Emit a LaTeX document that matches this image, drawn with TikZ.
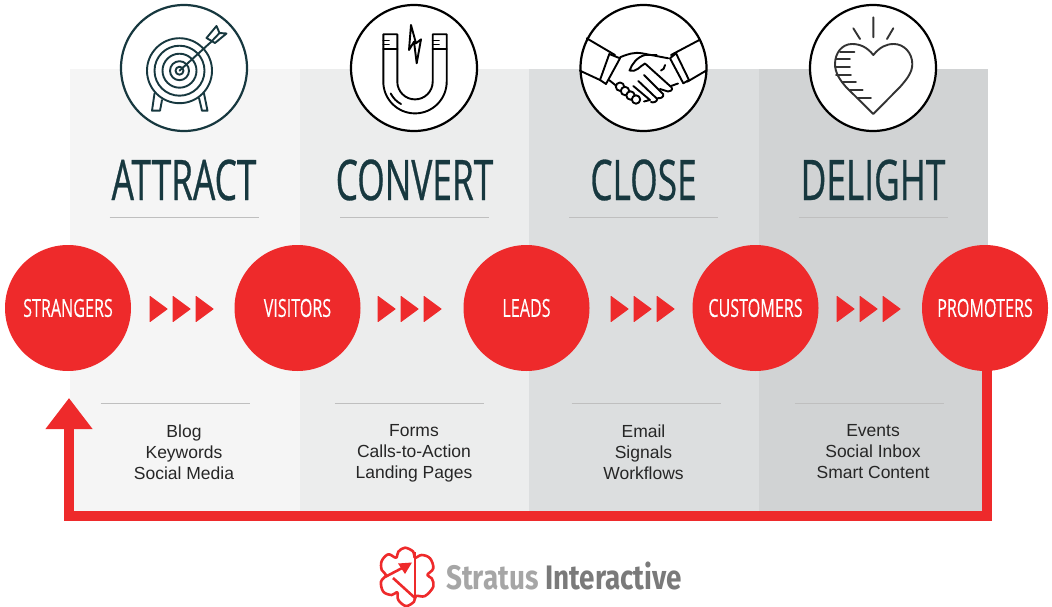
\documentclass[tikz,border=0pt]{standalone}
\usepackage{fontspec}
\setmainfont{Liberation Sans}
\newfontfamily\titlefont[FakeStretch=0.63,FakeBold=0.5]{Open Sans}
\newfontfamily\stagefont[FakeStretch=0.645,FakeBold=0.15]{Open Sans}
\newfontfamily\logofont[FakeStretch=0.82]{Fira Sans}
\usetikzlibrary{positioning,arrows.meta}
\definecolor{stagered}{HTML}{EE2A2B}
\definecolor{inkteal}{HTML}{17383F}
\definecolor{panelA}{HTML}{F5F5F5}
\definecolor{panelB}{HTML}{ECEDED}
\definecolor{panelC}{HTML}{DCDEDF}
\definecolor{panelD}{HTML}{D1D3D4}
\tikzset{
  panel/.style={inner sep=0pt,outer sep=0pt,minimum width=229.5pt,minimum height=447pt},
  stagecircle/.style={circle,fill=stagered,text=white,minimum size=126pt,inner sep=0pt,
                      font=\stagefont\fontsize{25}{25}\selectfont},
  iconcircle/.style={circle,draw,line width=2.2pt,fill=white,minimum size=126pt,inner sep=0pt},
  phasetitle/.style={text=inkteal,inner sep=0pt,font=\titlefont\fontsize{56}{56}\selectfont},
  tactics/.style={anchor=north,align=center,inner sep=0pt,text=black!85,font=\fontsize{17.5}{21}\selectfont},
  rulepath/.style={draw=black!25!white,line width=0.8pt},
  icon/.style={line width=1.9pt,line join=round,line cap=round},
  loopline/.style={draw=stagered,line width=10pt,-{Triangle[length=31pt,width=45pt]}},
  logotext/.style={anchor=base west,inner sep=0pt,font=\logofont\bfseries\fontsize{34}{34}\selectfont},
  logoline/.style={stagered,line width=2.6pt,line join=round}
}
\tikzstyle{chevron} = [fill=stagered,draw=stagered,line width=1pt,line join=round]
\newcommand{\stage}[2]{node (s#1) [stagecircle] {#2}}
\newcommand{\iconring}[1]{node (i#1) [iconcircle] {}}
\newcommand{\chevrons}[1]{
  \foreach \k in {0,1,2} {
    \path[chevron] (#1+\k*23,296.5) -- (#1+\k*23+17,309) -- (#1+\k*23,321.5) -- cycle;
  }
}
\begin{document}
\begin{tikzpicture}[x=1pt,y=-1pt]
  \useasboundingbox (0,0) rectangle (1052,607);

  % Draw panels
  \node (pa) [panel,fill=panelA,anchor=north west] at (70,69) {};
  \node (pb) [panel,fill=panelB,anchor=north west] at (pa.north east) {};
  \node (pc) [panel,fill=panelC,anchor=north west] at (pb.north east) {};
  \node (pd) [panel,fill=panelD,anchor=north west] at (pc.north east) {};

  % Draw stages
  \path (68,308) \stage{1}{STRANGERS};
  \path (s1.center)+(229.5,0) \stage{2}{VISITORS};
  \path (s2.center)+(229,0) \stage{3}{LEADS};
  \path (s3.center)+(229,0) \stage{4}{CUSTOMERS};
  \path (s4.center)+(229.5,0) \stage{5}{PROMOTERS};

  % Draw loop back to first stage
  \coordinate (loopa) at (69,516);
  \coordinate (looptip) at (69,398);
  \draw[loopline] ([xshift=2pt,yshift=1pt]s5.south) |- (loopa) -- (looptip);

  % Draw arrows between stages
  \chevrons{150}
  \chevrons{378}
  \chevrons{611}
  \chevrons{837}

  % Draw icon rings
  \path (184,68) node (i1) [iconcircle,draw=inkteal] {};
  \path (i1.center)+(230,0) \iconring{2};
  \path (i2.center)+(229.5,0) \iconring{3};
  \path (i3.center)+(229.5,0) \iconring{4};

  % Draw titles and rules
  \foreach \n/\t/\x/\y in {1/ATTRACT/184/175,2/CONVERT/414.5/409,3/CLOSE/643.5/646,4/DELIGHT/873/869} {
    \node (t\n) [phasetitle] at (\x,180) {\t};
    \draw[rulepath] (\x-74.5,217) -- (\x+74.5,217);
    \draw[rulepath] (\y-74.5,403.5) -- (\y+74.5,403.5);
  }

  % Draw tactics
  \node (l1) [tactics] at (184,424.5) {Blog\\Keywords\\Social Media};
  \node (l2) [tactics] at (414,424.5) {Forms\\Calls-to-Action\\Landing Pages};
  \node (l3) [tactics] at (643.5,424.5) {Email\\Signals\\Workflows};
  \node (l4) [tactics] at (873,424.5) {Events\\Social Inbox\\Smart Content};

  % Target icon
  \begin{scope}[icon,draw=inkteal]
    \foreach \r in {32.5,25,17,9.5,4} \draw[inkteal] (179.5,70.7) circle [radius=\r];
    \draw[inkteal] (179.5,70.7) -- (211,42);
    \draw[inkteal] (206.5,38) -- (216.5,26) -- (219.5,33) -- (226.5,33.5) -- (215,43) -- cycle;
    \draw[inkteal] (211,42) -- (219.5,33);
    \draw[inkteal] (154.5,93.5) -- (152,110.7) -- (160,110.7) -- (162,100);
    \draw[inkteal] (199,98) -- (202,110.7) -- (207.5,110.7) -- (204,93.5);
  \end{scope}

  % Magnet icon
  \begin{scope}[icon]
    \draw (383.3,34.3) -- (397.3,34.3) -- (397.3,81.7) arc [start angle=180,end angle=0,radius=17.7]
      -- (432.7,34.3) -- (446.7,34.3) -- (446.7,81.7) arc [start angle=0,end angle=180,radius=31.7] -- cycle;
    \draw (383.3,49.3) -- (397.3,49.3) (432.7,49.3) -- (446.7,49.3);
    \draw (383.3,40.5) -- (389,40.5) (383.3,44.5) -- (389,44.5);
    \draw (432.7,40.5) -- (439,40.5) (432.7,44.5) -- (439,44.5);
    \draw (390.7,93.5) .. controls (393,98) and (397,102) .. (401,104);
    \draw (411,25) -- (409,50) -- (414,41.7) -- (416.7,63.3) -- (421,39.3) -- (416,43.3) -- cycle;
  \end{scope}

  % Handshake icon
  \begin{scope}[icon]
    \draw (586.7,38.3) -- (615,55) (580,70.7) -- (600,80);
    \draw (609.3,54) -- (620,58.3) -- (606,84) -- (600,80) -- cycle;
    \draw (699.3,40) -- (671,55) (706,70.7) -- (687.3,81.7);
    \draw (676,53.3) -- (689,80) -- (683.3,83.3) -- (670,58.3) -- cycle;
    \draw (620,57.3) .. controls (628,54) and (634,52) .. (642,53.3) -- (668.3,58.3);
    \draw (656.7,55) -- (645,55) .. controls (637,57) and (632,64) .. (629.5,70.5)
      .. controls (636,73) and (640,66) .. (645,63.5) -- (671.7,87.5) .. controls (673,90) and (670,92) .. (668,91.5) -- (660,89);
    \draw (665,65) .. controls (665,68) and (663,70) .. (661,70.5);
    \draw (678,83.5) -- (671,86);
    \draw (609,80) -- (616.5,86);
    \draw (644,75) -- (663.3,94.3) .. controls (664,97) and (660,99) .. (658,98);
    \draw (638.3,81) -- (657.3,99) .. controls (657,102) and (653,103) .. (651,102);
    \draw (633.3,86) -- (650,100) -- (644,101.5);
    \foreach \x/\y in {620/86.7,625/91,630.5/95.5,636/99.5}
      \draw[fill=white] (\x,\y) circle [radius=4.2];
  \end{scope}

  % Heart icon
  \begin{scope}[icon]
    \draw[black!80] (873.3,55) .. controls (867,47) and (860,44) .. (852,44)
      .. controls (842,44) and (835,53) .. (835,64) .. controls (835,73) and (840,80) .. (846,87)
      -- (873.3,114) -- (900,87) .. controls (906,80) and (912.3,73) .. (912.3,64)
      .. controls (912.3,53) and (904,44) .. (894,44) .. controls (886,44) and (880,47) .. cycle;
    \draw[black!80] (873.3,17.3) -- (873.3,37.3) (853.3,28.3) -- (860,39) (893.3,28.3) -- (887,39);
    \foreach \y/\a/\b in {51.7/840/854.3,59.3/836/850,66.7/835/850,74.7/836/851,82/842/856,90/850/862.7,97.7/857.3/871}
      \draw[black!80] (\a,\y) -- (\b,\y);
  \end{scope}

  % Logo
  \draw[logoline] plot [smooth cycle,tension=0.6] coordinates {
    (405,547.7) (398.3,551.7) (396,557.7) (388.3,554.3) (381.7,561) (381.7,570) (386,575) (381,581.7)
    (383.3,591.7) (391.7,595) (397.3,592.3) (398.3,600) (406,606) (414,601.7) (416,596) (425,596)
    (433.3,586.7) (431.7,578.3) (427.3,575) (433.3,568.3) (430,558.3) (421.7,555) (415,557.7) (413.3,551.7)
  };
  \draw[logoline] (415,552) -- (415,598);
  \draw[logoline] (385,577) -- (406,566);
  \draw[logoline] (393,578) -- (415,598);
  \fill[stagered] (412,562.5) -- (398,563.5) -- (405,574) -- cycle;
  \node (lg1) [logotext,text=black!35] at (446,589) {Stratus};
  \node (lg2) [logotext,text=black!52] at (545,589) {Interactive};
\end{tikzpicture}
\end{document}
